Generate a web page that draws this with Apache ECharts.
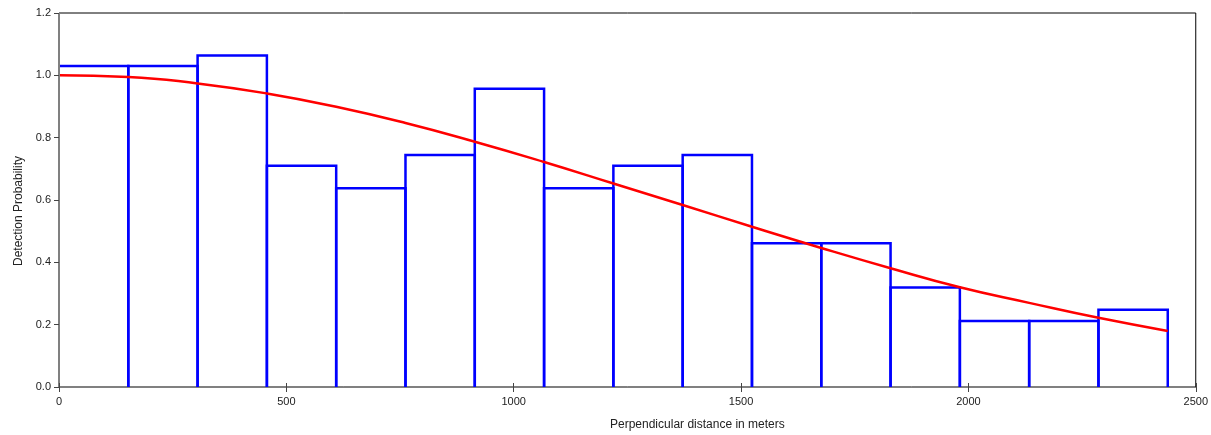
<!DOCTYPE html>
<html>
<head>
<meta charset="utf-8">
<script src="https://cdn.jsdelivr.net/npm/echarts@6/dist/echarts.min.js"></script>
<style>
  html, body { margin: 0; padding: 0; background: #fff; }
  #chart { width: 1211px; height: 435px; }
</style>
</head>
<body>
<div id="chart"></div>
<script>
// Distance bins (m): left and right edges of each histogram bar
const binStart = [0, 152.4, 304.8, 457.2, 609.6, 762, 914.4, 1066.8, 1219.2, 1371.6, 1524, 1676.4, 1828.8, 1981.2, 2133.6, 2286];
const binEnd   = [152.4, 304.8, 457.2, 609.6, 762, 914.4, 1066.8, 1219.2, 1371.6, 1524, 1676.4, 1828.8, 1981.2, 2133.6, 2286, 2438.4];
// Scaled observed detections per bin
const binHeight = [1.030, 1.030, 1.064, 0.710, 0.638, 0.744, 0.957, 0.638, 0.710, 0.744, 0.461, 0.461, 0.319, 0.212, 0.212, 0.248];

// Fitted detection function, sampled along distance
const curveX = [0, 152.4, 304.8, 457.2, 609.6, 762, 914.4, 1066.8, 1219.2, 1371.6, 1524, 1676.4, 1828.8, 1981.2, 2133.6, 2286, 2438.4];
const curveY = [1.000, 0.995, 0.974, 0.942, 0.899, 0.847, 0.787, 0.722, 0.653, 0.584, 0.514, 0.446, 0.381, 0.320, 0.270, 0.222, 0.180];

const xTicks = [0, 500, 1000, 1500, 2000, 2500];
const yTicks = [0, 0.2, 0.4, 0.6, 0.8, 1.0, 1.2];

const histData = binStart.map((s, i) => [s, binEnd[i], binHeight[i]]);
const curveData = curveX.map((x, i) => [x, curveY[i]]);

const chart = echarts.init(document.getElementById('chart'), null, { renderer: 'canvas' });

const labelFont = { fontFamily: 'Liberation Sans, Arial, sans-serif', fontSize: 11, color: '#222' };
const titleFont = '12px "Liberation Sans", Arial, sans-serif';

chart.setOption({
  animation: false,
  backgroundColor: '#fff',
  grid: {
    left: 59, right: 14, top: 13, bottom: 48,
    show: true, borderColor: '#000', borderWidth: 1, backgroundColor: 'transparent'
  },
  xAxis: [{
    type: 'value',
    min: xTicks[0], max: xTicks[xTicks.length - 1], interval: 500,
    z: 10,
    axisLine: { show: true, lineStyle: { color: '#808080', width: 1 } },
    axisTick: { show: true, length: 5, lineStyle: { color: '#444' } },
    axisLabel: Object.assign({ margin: 9, formatter: v => String(v) }, labelFont),
    splitLine: { show: false }
  }, {
    type: 'value',
    position: 'bottom',
    min: xTicks[0], max: xTicks[xTicks.length - 1], interval: 500,
    z: 10,
    axisLine: { show: false },
    axisTick: { show: true, inside: true, length: 4, lineStyle: { color: '#444' } },
    axisLabel: { show: false },
    splitLine: { show: false }
  }],
  yAxis: {
    type: 'value',
    min: yTicks[0], max: yTicks[yTicks.length - 1], interval: 0.2,
    z: 10,
    axisLine: { show: true, lineStyle: { color: '#808080', width: 1 } },
    axisTick: { show: true, length: 5, lineStyle: { color: '#444' } },
    axisLabel: Object.assign({ margin: 8, formatter: v => v.toFixed(1) }, labelFont),
    splitLine: { show: false }
  },
  graphic: [{
    type: 'text',
    left: 610, top: 419,
    style: { text: 'Perpendicular distance in meters', textAlign: 'center', font: titleFont, fill: '#222' }
  }, {
    type: 'text',
    x: 19, y: 211,
    rotation: Math.PI / 2,
    style: { text: 'Detection Probability', textAlign: 'center', textVerticalAlign: 'middle',
             font: titleFont, fill: '#222' }
  }],
  series: [{
    type: 'custom',
    xAxisIndex: 0,
    data: histData,
    z: 2,
    // Open-bottomed bar outline: the baseline is left to the x axis
    renderItem: function (params, api) {
      const b0 = api.coord([api.value(0), 0]);
      const t0 = api.coord([api.value(0), api.value(2)]);
      const t1 = api.coord([api.value(1), api.value(2)]);
      const b1 = api.coord([api.value(1), 0]);
      const pts = api.value(0) > 0 ? [b0, t0, t1, b1] : [t0, t1, b1];
      return {
        type: 'polyline',
        shape: { points: pts },
        style: { fill: 'none', stroke: '#0000ff', lineWidth: 2.5, lineJoin: 'miter' }
      };
    }
  }, {
    type: 'line',
    xAxisIndex: 0,
    data: curveData,
    smooth: true,
    showSymbol: false,
    z: 3,
    lineStyle: { color: '#ff0000', width: 2.5 }
  }]
});
</script>
</body>
</html>
